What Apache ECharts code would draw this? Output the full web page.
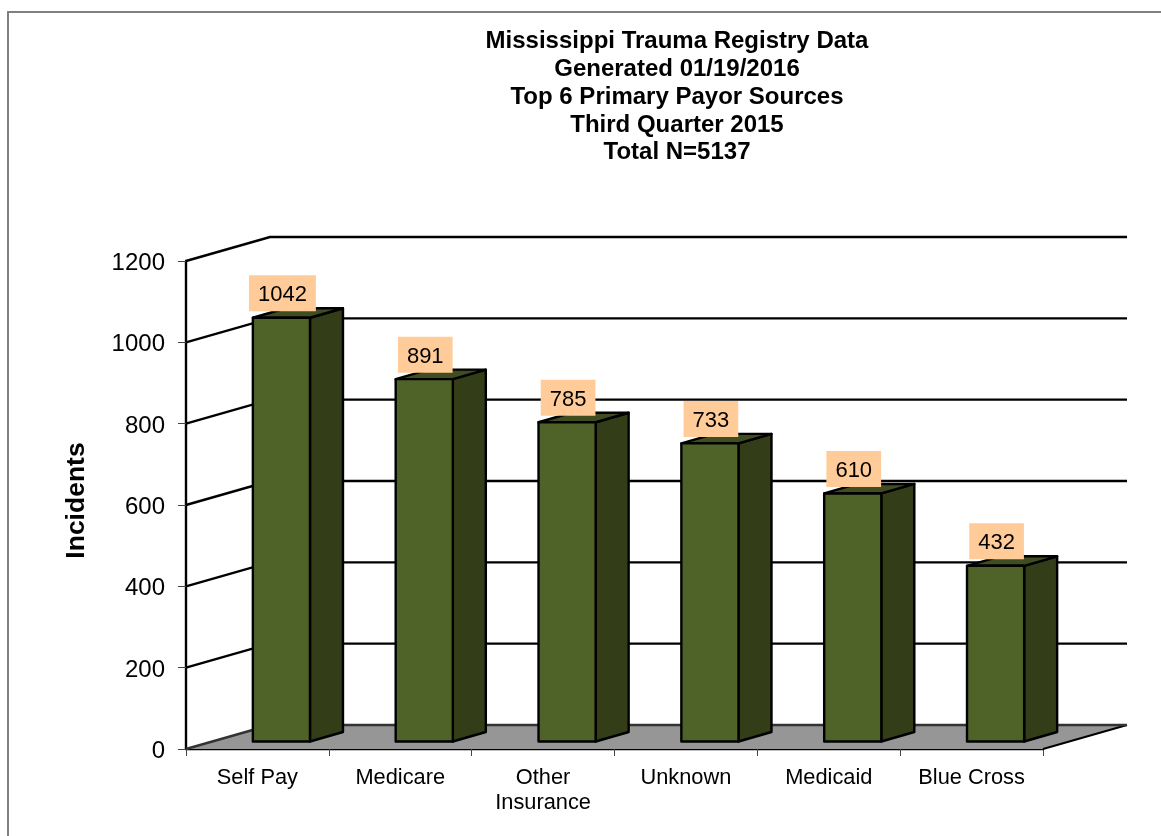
<!DOCTYPE html>
<html>
<head>
<meta charset="utf-8">
<title>Top 6 Primary Payor Sources</title>
<style>
  html, body { margin: 0; padding: 0; background: #fff; }
  #chart { width: 1161px; height: 836px; }
</style>
<script src="https://cdn.jsdelivr.net/npm/echarts@6/dist/echarts.min.js"></script>
</head>
<body>
<div id="chart"></div>
<script>
const titleLines = [
  'Mississippi Trauma Registry Data',
  'Generated 01/19/2016',
  'Top 6 Primary Payor Sources',
  'Third Quarter 2015',
  'Total N=5137'
];
const categories = ['Self Pay', 'Medicare', 'Other\nInsurance', 'Unknown', 'Medicaid', 'Blue Cross'];
const incidents = [1042, 891, 785, 733, 610, 432];
const yTicks = [0, 200, 400, 600, 800, 1000, 1200];

// fake 3d: how far the back wall and the bars sit from the axis plane, in px
const WALL_DX = 84, WALL_DY = -24;
const BAR_DX = 24, BAR_DY = -7.5;
const SIDE_DX = 33, SIDE_DY = -9.5;

const font = 'Liberation Sans, Arial, sans-serif';
const chart = echarts.init(document.getElementById('chart'), null, { renderer: 'canvas' });

// floor, back gridlines and the slanted lines on the left wall
function renderWall(params, api) {
  const v = api.value(0);
  const box = params.coordSys;
  const y = api.coord([0, v])[1];
  const x0 = box.x, x1 = box.x + box.width;
  const children = [];
  if (v === 0) {
    children.push({
      type: 'polygon',
      shape: { points: [[x0, y], [x0 + WALL_DX, y + WALL_DY], [x1 + WALL_DX, y + WALL_DY], [x1, y]] },
      style: { fill: '#969696' }
    });
    children.push({
      type: 'line',
      shape: { x1: x1, y1: y, x2: x1 + WALL_DX, y2: y + WALL_DY },
      style: { stroke: '#000', lineWidth: 2 }
    });
  }
  children.push({
    type: 'polyline',
    shape: { points: [[x0, y], [x0 + WALL_DX, y + WALL_DY], [x1 + WALL_DX, y + WALL_DY]] },
    style: { fill: null, stroke: v === 0 ? '#333' : '#000', lineWidth: 2.4 }
  });
  return { type: 'group', children };
}

function renderBar(params, api) {
  const p = api.coord([api.value(0), api.value(1)]);
  const base = api.coord([api.value(0), 0]);
  const w = api.size([1, 0])[0] * 0.4;
  const left = p[0] - w / 2 + BAR_DX, right = left + w;
  const top = p[1] + BAR_DY, bottom = base[1] + BAR_DY;
  const edge = { stroke: '#000', lineWidth: 2.4, lineJoin: 'round' };
  return {
    type: 'group',
    children: [
      {
        type: 'polygon',
        shape: { points: [[right, top], [right + SIDE_DX, top + SIDE_DY], [right + SIDE_DX, bottom + SIDE_DY], [right, bottom]] },
        style: Object.assign({ fill: '#333D17' }, edge)
      },
      {
        type: 'polygon',
        shape: { points: [[left, top], [left + SIDE_DX, top + SIDE_DY], [right + SIDE_DX, top + SIDE_DY], [right, top]] },
        style: Object.assign({ fill: '#3F4D20' }, edge)
      },
      {
        type: 'rect',
        shape: { x: left, y: top, width: w, height: bottom - top },
        style: Object.assign({ fill: '#4F6228' }, edge)
      },
      {
        type: 'text',
        z2: 10,
        style: {
          text: String(api.value(1)),
          x: (left + right) / 2 + 1,
          y: top - 6.5,
          align: 'center',
          verticalAlign: 'bottom',
          fill: '#000',
          font: '22px ' + font,
          backgroundColor: '#FFCC99',
          padding: [9, 9, 5, 9]
        }
      }
    ]
  };
}

chart.setOption({
  backgroundColor: '#fff',
  animation: false,
  title: {
    text: titleLines.join('\n'),
    left: 672,
    top: 23,
    textAlign: 'center',
    textStyle: { fontFamily: font, fontSize: 24, fontWeight: 'bold', color: '#000', lineHeight: 27.7 }
  },
  graphic: [{
    type: 'polyline',
    shape: { points: [[8, 840], [8, 12], [1165, 12]] },
    style: { fill: null, stroke: '#808080', lineWidth: 2 },
    silent: true
  }],
  grid: { left: 186, top: 261, width: 857, height: 488 },
  xAxis: {
    type: 'category',
    data: categories,
    axisLine: { lineStyle: { color: '#000', width: 2.4 } },
    axisTick: { show: true, length: 7, lineStyle: { color: '#444', width: 1 } },
    axisLabel: { color: '#000', fontFamily: font, fontSize: 21.8, lineHeight: 25.5, margin: 16, interval: 0 }
  },
  yAxis: {
    type: 'value',
    min: 0,
    max: 1200,
    interval: 200,
    name: 'Incidents',
    nameLocation: 'middle',
    nameGap: 96,
    nameTextStyle: { fontFamily: font, fontSize: 26.5, fontWeight: 'bold', color: '#000', padding: [0, 0, 0, 9] },
    splitLine: { show: false },
    axisLine: { show: true, lineStyle: { color: '#000', width: 2.4 } },
    axisTick: { show: true, length: 8, lineStyle: { color: '#444', width: 1 } },
    axisLabel: {
      color: '#000',
      fontFamily: font,
      fontSize: 24,
      margin: 21,
      verticalAlign: 'top',
      lineHeight: 5,
      formatter: v => String(v)
    }
  },
  series: [
    {
      type: 'custom',
      name: 'wall',
      coordinateSystem: 'cartesian2d',
      z: 1,
      clip: false,
      silent: true,
      encode: { y: 0 },
      data: yTicks.map(v => [v]),
      renderItem: renderWall
    },
    {
      type: 'custom',
      name: 'Incidents',
      coordinateSystem: 'cartesian2d',
      z: 2,
      clip: false,
      encode: { x: 0, y: 1 },
      data: incidents.map((v, i) => [i, v]),
      renderItem: renderBar
    }
  ]
});
</script>
</body>
</html>
